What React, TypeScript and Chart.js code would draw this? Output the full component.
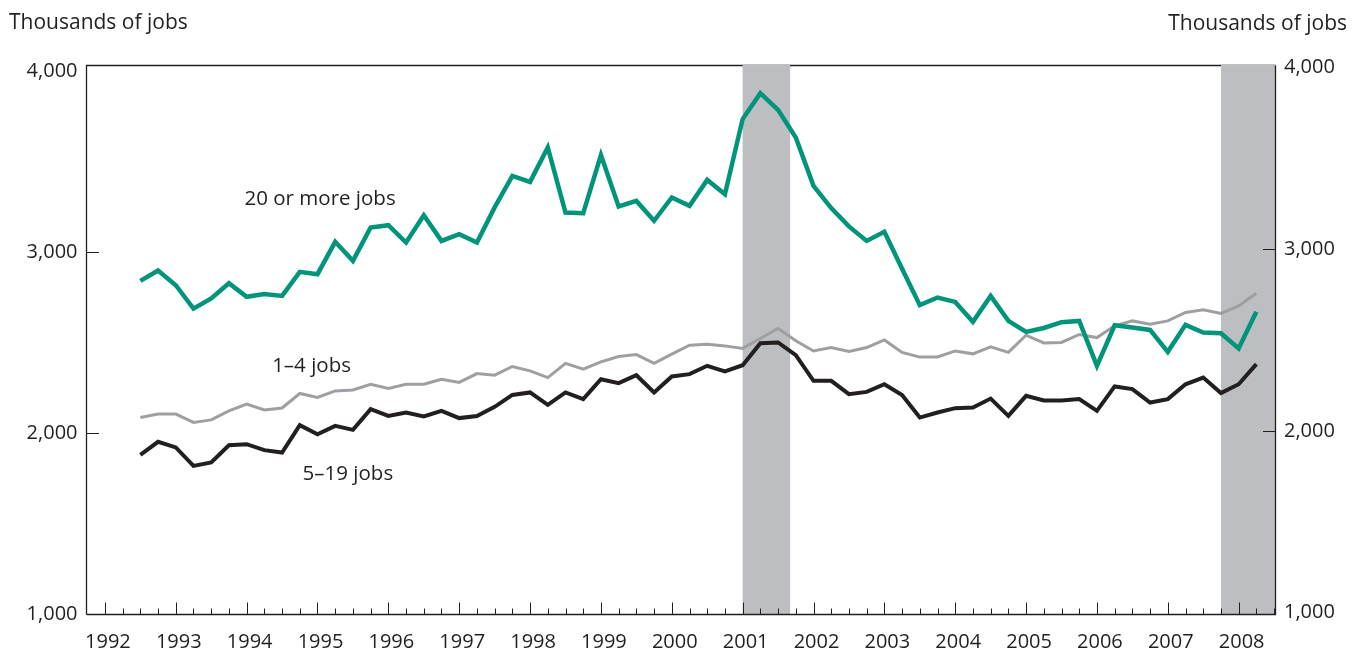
import React, { useEffect, useRef } from "react";
import { Chart, registerables } from "chart.js";

Chart.register(...registerables);

// ---- data (thousands of jobs, quarterly) ----
const jobs20Plus = [
  2843, 2900, 2819, 2690, 2746, 2830, 2755, 2770, 2760, 2893,
  2880, 3059, 2954, 3138, 3151, 3055, 3206, 3064, 3101, 3055,
  3249, 3423, 3390, 3580, 3221, 3217, 3538, 3254, 3285, 3175,
  3304, 3258, 3401, 3322, 3737, 3880, 3788, 3635, 3368, 3245,
  3144, 3064, 3114, 2910, 2709, 2751, 2727, 2617, 2760, 2622,
  2561, 2583, 2615, 2622, 2374, 2598, 2586, 2572, 2451, 2600,
  2558, 2554, 2470, 2672,
];
const jobs1to4 = [
  2088, 2107, 2107, 2061, 2075, 2125, 2162, 2130, 2141, 2221,
  2199, 2235, 2240, 2272, 2249, 2272, 2272, 2300, 2282, 2331,
  2322, 2370, 2346, 2309, 2387, 2355, 2396, 2425, 2436, 2388,
  2438, 2488, 2493, 2484, 2470, 2525, 2580, 2512, 2456, 2475,
  2453, 2475, 2517, 2448, 2422, 2423, 2456, 2440, 2479, 2448,
  2543, 2500, 2503, 2547, 2530, 2595, 2622, 2604, 2622, 2669,
  2683, 2663, 2705, 2775,
];
const jobs5to19 = [
  1882, 1954, 1923, 1821, 1840, 1935, 1941, 1908, 1895, 2046,
  1996, 2042, 2020, 2134, 2097, 2116, 2094, 2125, 2085, 2097,
  2147, 2213, 2227, 2158, 2227, 2190, 2300, 2278, 2322, 2227,
  2315, 2328, 2374, 2343, 2377, 2499, 2503, 2433, 2291, 2291,
  2217, 2230, 2272, 2213, 2088, 2116, 2140, 2144, 2193, 2097,
  2208, 2182, 2182, 2190, 2125, 2260, 2245, 2171, 2190, 2272,
  2309, 2223, 2272, 2383,
];

// categories: quarters, first one is 1992 Q2
const firstYear = 1992;
const firstQuarter = 2;
const quarterLabels: string[] = jobs20Plus.map((_, i) => {
  const q = firstQuarter - 1 + i;
  return `${firstYear + Math.floor(q / 4)} Q${(q % 4) + 1}`;
});
const quarterPos = (label: string) => {
  const [y, q] = label.split(" Q");
  return Number(y) + Number(q) * 0.25;
};

const yearLabels = [
  1992, 1993, 1994, 1995, 1996, 1997, 1998, 1999, 2000,
  2001, 2002, 2003, 2004, 2005, 2006, 2007, 2008,
];
const leftTicks = [1000, 2000, 3000, 4000];
const rightTicks = [1000, 2000, 3000, 4000];
const tickMarks = [2000, 3000];
const recessions = [
  { start: 2001.0, end: 2001.67 },
  { start: 2007.75, end: null as number | null },
];
const seriesLabels = [
  { text: "20 or more jobs", x: 1993.97, y: 3262 },
  { text: "1\u20134 jobs", x: 1994.36, y: 2340 },
  { text: "5\u201319 jobs", x: 1994.79, y: 1743 },
];

const TEXT = "#231F20";
const GREEN = "#00957B";
const GRAY = "#9D9FA2";
const BLACK = "#231F20";
const SHADE = "#BCBEC1";
const FONT = "'Open Sans', 'Noto Sans', sans-serif";

export default function App() {
  const ref = useRef<HTMLCanvasElement | null>(null);

  useEffect(() => {
    document.body.style.margin = "0";
    const canvas = ref.current;
    if (!canvas) return;

    const decor = {
      id: "decor",
      beforeDatasetsDraw(chart: any) {
        const { ctx, chartArea: a, scales } = chart;
        const x = scales.x;
        const y = scales.y;
        const y2 = scales.y2;
        ctx.save();
        ctx.strokeStyle = TEXT;
        ctx.lineWidth = 1.3;
        ctx.beginPath();
        ctx.moveTo(a.left, a.bottom);
        ctx.lineTo(a.left, a.top);
        ctx.lineTo(a.right, a.top);
        ctx.stroke();
        ctx.fillStyle = SHADE;
        for (const r of recessions) {
          const x0 = x.getPixelForValue(r.start);
          const x1 = r.end == null ? a.right : x.getPixelForValue(r.end);
          ctx.fillRect(x0, a.top - 1, x1 - x0, a.bottom - a.top + 1);
        }
        ctx.strokeStyle = TEXT;
        ctx.lineWidth = 1.3;
        ctx.beginPath();
        ctx.moveTo(a.left, a.bottom);
        ctx.lineTo(a.right, a.bottom);
        ctx.lineTo(a.right, a.top);
        ctx.stroke();
        // x ticks (quarters) pointing inward
        ctx.lineWidth = 1;
        ctx.beginPath();
        for (const yr of yearLabels) {
          for (let k = 0; k < 4; k++) {
            const v = yr + k * 0.25;
            if (v >= x.max) continue;
            const px = Math.round(x.getPixelForValue(v)) + 0.5;
            const len = k === 0 ? 12 : 6;
            ctx.moveTo(px, a.bottom);
            ctx.lineTo(px, a.bottom - len);
          }
        }
        // y ticks inward
        for (const v of tickMarks) {
          const pl = Math.round(y.getPixelForValue(v)) + 0.5;
          ctx.moveTo(a.left, pl);
          ctx.lineTo(a.left + 12.5, pl);
          const pr = Math.round(y2.getPixelForValue(v)) + 0.5;
          ctx.moveTo(a.right, pr);
          ctx.lineTo(a.right - 12.5, pr);
        }
        ctx.stroke();
        ctx.restore();
      },
      afterDraw(chart: any) {
        const { ctx, scales } = chart;
        ctx.save();
        ctx.fillStyle = TEXT;
        ctx.textBaseline = "alphabetic";
        ctx.font = `21px ${FONT}`;
        ctx.textAlign = "left";
        ctx.fillText("Thousands of jobs", 9, 28.5);
        ctx.textAlign = "right";
        ctx.fillText("Thousands of jobs", 1347, 29.5);
        ctx.textAlign = "left";
        ctx.font = `20.5px ${FONT}`;
        for (const l of seriesLabels) {
          ctx.fillText(
            l.text,
            scales.x.getPixelForValue(l.x),
            scales.y.getPixelForValue(l.y)
          );
        }
        ctx.restore();
      },
    };

    const tickFont = { family: FONT, size: 20 };
    const fmt = (v: any) => Number(v).toLocaleString("en-US");

    const chart = new Chart(canvas, {
      type: "line",
      data: {
        datasets: [
          {
            label: "20 or more jobs",
            data: jobs20Plus.map((v, i) => ({ x: quarterPos(quarterLabels[i]), y: v })),
            borderColor: GREEN,
            borderWidth: 4.5,
            pointRadius: 0,
            tension: 0,
            yAxisID: "y",
          },
          {
            label: "5–19 jobs",
            data: jobs5to19.map((v, i) => ({ x: quarterPos(quarterLabels[i]), y: v })),
            borderColor: BLACK,
            borderWidth: 4,
            pointRadius: 0,
            tension: 0,
            yAxisID: "y",
          },
          {
            label: "1–4 jobs",
            data: jobs1to4.map((v, i) => ({ x: quarterPos(quarterLabels[i]), y: v })),
            borderColor: GRAY,
            borderWidth: 3,
            pointRadius: 0,
            tension: 0,
            yAxisID: "y",
          },
        ],
      },
      options: {
        responsive: false,
        animation: false,
        devicePixelRatio: 1,
        events: [],
        layout: { padding: { top: 65.5, left: 0, right: 0, bottom: 0 } },
        plugins: { legend: { display: false }, tooltip: { enabled: false } },
        scales: {
          x: {
            type: "linear",
            position: "bottom",
            min: 1991.74,
            max: 2008.52,
            grid: { display: false, drawTicks: false },
            border: { display: false },
            afterBuildTicks: (s: any) => {
              s.ticks = yearLabels.map((v) => ({ value: v }));
            },
            afterFit: (s: any) => {
              s.height = 39.5;
            },
            ticks: {
              autoSkip: false,
              maxRotation: 0,
              minRotation: 0,
              padding: 16,
              labelOffset: 3,
              color: TEXT,
              font: tickFont,
              callback: (v: any) => String(v),
            },
          },
          y: {
            type: "linear",
            position: "left",
            min: 1000,
            max: 4033,
            grid: { display: false, drawTicks: false },
            border: { display: false },
            afterBuildTicks: (s: any) => {
              s.ticks = leftTicks.map((v) => ({ value: v }));
            },
            afterFit: (s: any) => {
              s.width = 86.5;
            },
            ticks: { padding: 9, color: TEXT, font: tickFont, callback: fmt },
          },
          y2: {
            type: "linear",
            position: "right",
            min: 990,
            max: 4012,
            grid: { display: false, drawTicks: false },
            border: { display: false },
            afterBuildTicks: (s: any) => {
              s.ticks = rightTicks.map((v) => ({ value: v }));
            },
            afterFit: (s: any) => {
              s.width = 87.5;
            },
            ticks: { padding: 8.5, color: TEXT, font: tickFont, callback: fmt },
          },
        },
      },
      plugins: [decor],
    } as any);

    return () => chart.destroy();
  }, []);

  return <canvas ref={ref} width={1363} height={654} style={{ display: "block" }} />;
}
